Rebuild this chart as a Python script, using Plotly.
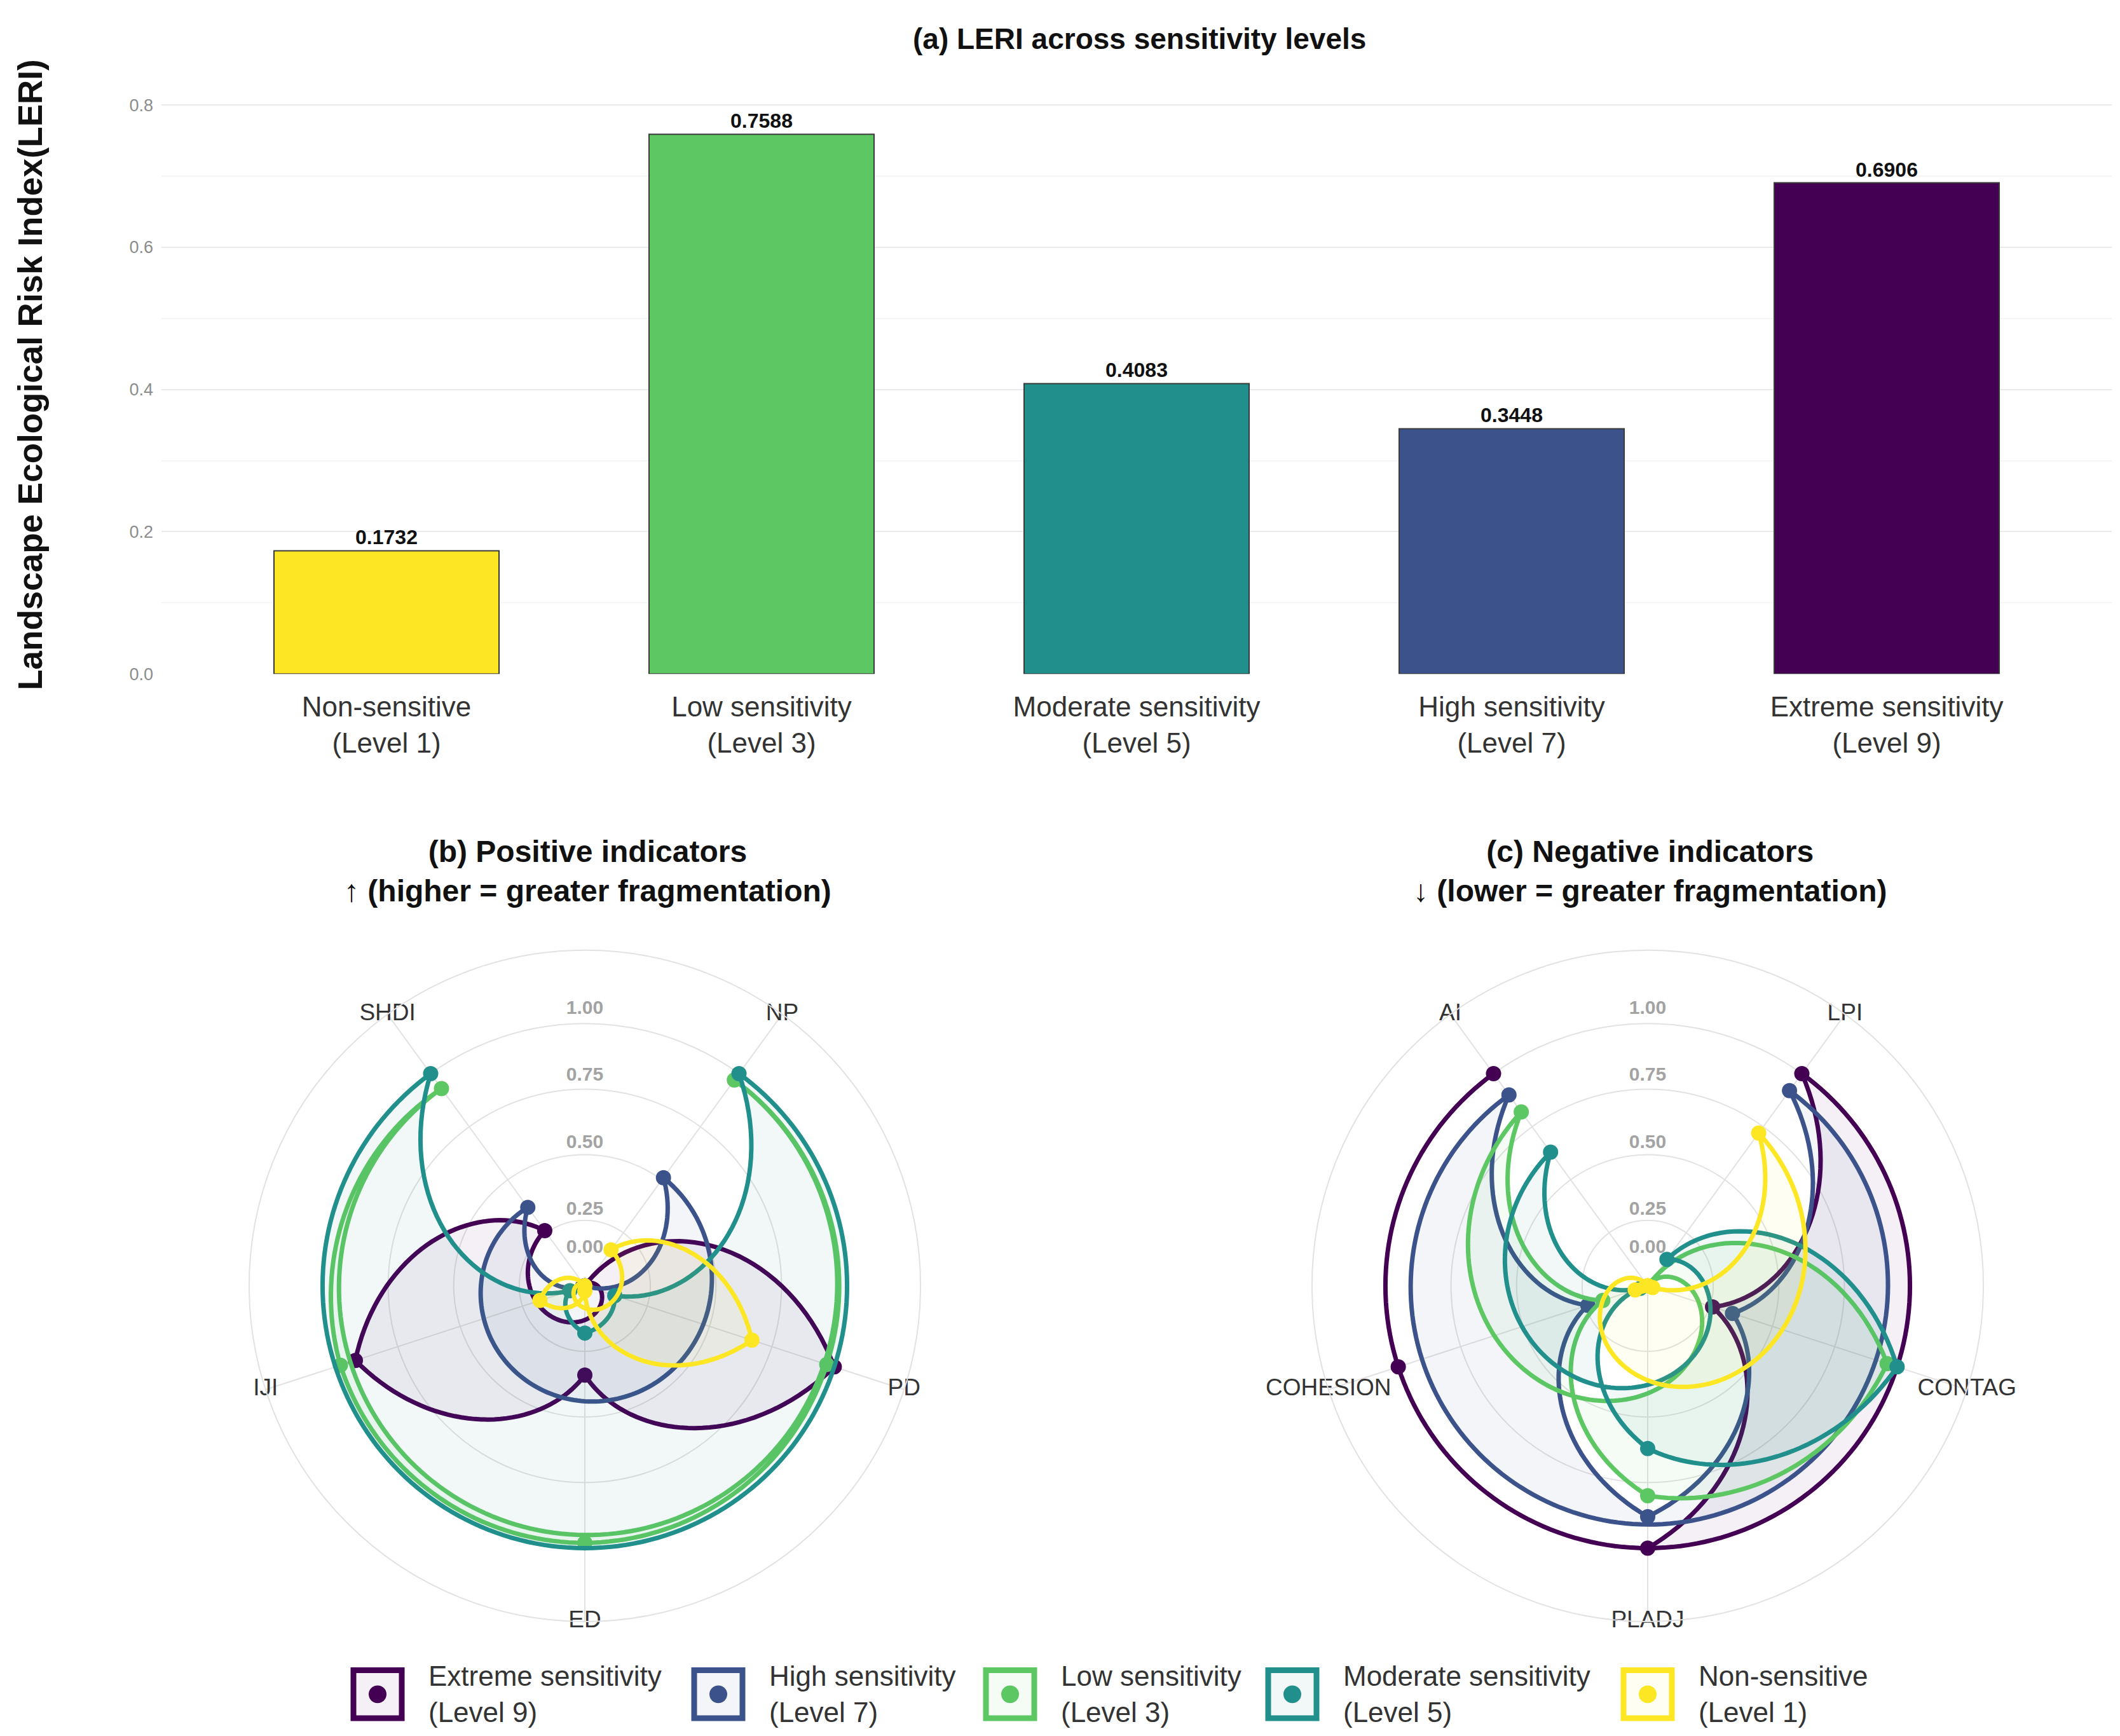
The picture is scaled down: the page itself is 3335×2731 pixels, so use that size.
import plotly.graph_objects as go

W, H = 3335, 2731
FONT = "Liberation Sans, Arial, sans-serif"

# ---------------- (a) LERI by sensitivity level ----------------
levels = ["Non-sensitive", "Low sensitivity", "Moderate sensitivity",
          "High sensitivity", "Extreme sensitivity"]
level_codes = ["Level 1", "Level 3", "Level 5", "Level 7", "Level 9"]
leri = [0.1732, 0.7588, 0.4083, 0.3448, 0.6906]
level_colors = ["#FDE725", "#5DC863", "#21908C", "#3B528B", "#440154"]

# ---------------- (b)/(c) normalised landscape indicators ----------------
pos_indicators = ["NP", "PD", "ED", "IJI", "SHDI"]
neg_indicators = ["LPI", "CONTAG", "PLADJ", "COHESION", "AI"]

radar_groups = ["Extreme sensitivity", "High sensitivity", "Low sensitivity",
                "Moderate sensitivity", "Non-sensitive"]
radar_codes = ["Level 9", "Level 7", "Level 3", "Level 5", "Level 1"]
radar_colors = ["#440154", "#3B528B", "#5DC863", "#21908C", "#FDE725"]

# positive indicators: NP, PD, ED, IJI, SHDI
pos_extreme = [0.00, 1.00, 0.34, 0.92, 0.26]
pos_high = [0.51, 0.00, 0.00, 0.01, 0.37]
pos_low = [0.97, 0.97, 0.98, 0.98, 0.93]
pos_moderate = [1.00, 0.12, 0.18, 0.06, 1.00]
pos_non = [0.17, 0.67, 0.02, 0.18, 0.00]

# negative indicators: LPI, CONTAG, PLADJ, COHESION, AI
neg_extreme = [1.00, 0.26, 1.00, 1.00, 1.00]
neg_high = [0.92, 0.34, 0.88, 0.24, 0.90]
neg_low = [0.00, 0.96, 0.80, 0.18, 0.82]
neg_moderate = [0.125, 1.00, 0.62, 0.03, 0.63]
neg_non = [0.72, 0.02, 0.00, 0.05, 0.00]

radial_ticks = [1.00, 0.75, 0.50, 0.25, 0.00]


def px_x(x):
    return x / W


def px_y(y):
    return 1 - y / H


def rgba(hex_color, a):
    h = hex_color.lstrip("#")
    return f"rgba({int(h[0:2], 16)},{int(h[2:4], 16)},{int(h[4:6], 16)},{a})"


def axis_angles(n):
    # discrete theta positions as ggplot's coord_polar places them
    return [(i + 0.5) * 360 / n for i in range(n)]


def polar_path(values, steps=40):
    # coord_polar draws every edge straight in (x, r) data space, so on screen
    # the edges become spirals; the closing edge runs back over all axes
    n = len(values)
    xs = list(range(n)) + [0]
    rs = list(values) + [values[0]]
    theta, r = [], []
    for i in range(n):
        k_max = steps * abs(xs[i + 1] - xs[i])
        for k in range(k_max):
            t = k / k_max
            x = xs[i] + t * (xs[i + 1] - xs[i])
            theta.append((x + 0.5) * 360 / n)
            r.append(rs[i] + t * (rs[i + 1] - rs[i]))
    theta.append((xs[-1] + 0.5) * 360 / n)
    r.append(rs[-1])
    return theta, r


fig = go.Figure()

# bars
fig.add_trace(go.Bar(
    x=[f"{name}<br>({code})" for name, code in zip(levels, level_codes)],
    y=leri,
    width=0.6,
    marker=dict(color=level_colors, line=dict(color="#3a3a3a", width=2)),
    texttemplate="<b>%{y:.4f}</b>",
    textposition="outside",
    textfont=dict(size=32, color="#111111", family=FONT),
    cliponaxis=False,
    showlegend=False,
))

# radar panels
panels = [
    ("polar", pos_indicators,
     [pos_extreme, pos_high, pos_low, pos_moderate, pos_non]),
    ("polar2", neg_indicators,
     [neg_extreme, neg_high, neg_low, neg_moderate, neg_non]),
]
for subplot, labels, series in panels:
    angles = axis_angles(len(labels))
    for vals, color in zip(series, radar_colors):
        th, rr = polar_path(vals)
        fig.add_trace(go.Scatterpolar(
            theta=th, r=rr, mode="lines", fill="toself",
            fillcolor=rgba(color, 0.06),
            line=dict(color=color, width=7),
            subplot=subplot, showlegend=False, hoverinfo="skip",
        ))
        fig.add_trace(go.Scatterpolar(
            theta=angles, r=vals, mode="markers",
            marker=dict(color=color, size=24),
            subplot=subplot, showlegend=False,
        ))
    # radial tick labels on the vertical
    fig.add_trace(go.Scatterpolar(
        theta=[0] * len(radial_ticks),
        r=[1.055, 0.80, 0.545, 0.29, 0.145],
        mode="text",
        text=[f"<b>{v:.2f}</b>" for v in radial_ticks],
        textfont=dict(size=30, color="#a3a3a3", family=FONT),
        subplot=subplot, showlegend=False, cliponaxis=False,
    ))
    # indicator names on the outer circle
    fig.add_trace(go.Scatterpolar(
        theta=angles, r=[1.28] * len(labels), mode="text", text=labels,
        textfont=dict(size=37, color="#333333", family=FONT),
        subplot=subplot, showlegend=False, cliponaxis=False,
    ))

polar_common = dict(
    bgcolor="white",
    radialaxis=dict(range=[0, 1.28], tickvals=[0.25, 0.5, 0.75, 1.0],
                    showticklabels=False, ticks="", showline=False,
                    gridcolor="#e2e2e2", gridwidth=2),
    angularaxis=dict(rotation=90, direction="clockwise", tickmode="array",
                     tickvals=axis_angles(5), showticklabels=False, ticks="",
                     showgrid=True, gridcolor="#e2e2e2", gridwidth=2,
                     showline=True, linecolor="#e2e2e2", linewidth=2),
)

annotations = [
    dict(text="<b>(a) LERI across sensitivity levels</b>", x=px_x(1785), y=px_y(53),
         font=dict(size=46, color="#111111")),
    dict(text="<b>Landscape Ecological Risk Index(LERI)</b>", x=px_x(40), y=px_y(585),
         textangle=-90, font=dict(size=53, color="#111111")),
    dict(text="<b>(b) Positive indicators<br>↑ (higher = greater fragmentation)</b>",
         x=px_x(917), y=px_y(1370), font=dict(size=48, color="#111111")),
    dict(text="<b>(c) Negative indicators<br>↓ (lower = greater fragmentation)</b>",
         x=px_x(2587), y=px_y(1370), font=dict(size=48, color="#111111")),
]

# legend drawn as keys (outlined square + dot) and labels
shapes = []
legend_left = [548, 1084, 1543, 1987, 2546]
key = 76
key_cy = 2672
for left, name, code, color in zip(legend_left, radar_groups, radar_codes, radar_colors):
    shapes.append(dict(type="rect", xref="paper", yref="paper",
                       x0=px_x(left), x1=px_x(left + key),
                       y0=px_y(key_cy + key / 2), y1=px_y(key_cy - key / 2),
                       line=dict(color=color, width=9), fillcolor=rgba(color, 0.06)))
    shapes.append(dict(type="circle", xref="paper", yref="paper",
                       x0=px_x(left + key / 2 - 14), x1=px_x(left + key / 2 + 14),
                       y0=px_y(key_cy + 14), y1=px_y(key_cy - 14),
                       line=dict(width=0), fillcolor=color))
    annotations.append(dict(text=f"{name}<br>({code})", x=px_x(left + 116), y=px_y(key_cy),
                            xanchor="left", align="left",
                            font=dict(size=44, color="#333333")))

for a in annotations:
    a.setdefault("xref", "paper")
    a.setdefault("yref", "paper")
    a.setdefault("xanchor", "center")
    a.setdefault("yanchor", "middle")
    a.setdefault("showarrow", False)

fig.update_layout(
    width=W, height=H,
    margin=dict(l=0, r=0, t=0, b=0),
    paper_bgcolor="white", plot_bgcolor="white",
    font=dict(family=FONT, color="#333333"),
    showlegend=False,
    xaxis=dict(domain=[px_x(246), px_x(3314)], range=[-0.6, 4.6],
               showgrid=False, zeroline=False, ticks="", showline=False,
               tickfont=dict(size=44, color="#333333"), ticklabelstandoff=22),
    yaxis=dict(domain=[px_y(1058), px_y(113)], range=[0, 0.84],
               tickvals=[0, 0.2, 0.4, 0.6, 0.8],
               ticktext=["0.0", "0.2", "0.4", "0.6", "0.8"],
               gridcolor="#ebebeb", gridwidth=2, zeroline=False, ticks="",
               minor=dict(tickvals=[0.1, 0.3, 0.5, 0.7], showgrid=True,
                          gridcolor="#f5f5f5", gridwidth=1.5),
               tickfont=dict(size=27, color="#8c8c8c"), ticklabelstandoff=12),
    polar=dict(domain=dict(x=[px_x(381), px_x(1443)], y=[px_y(2557), px_y(1495)]),
               **polar_common),
    polar2=dict(domain=dict(x=[px_x(2053), px_x(3115)], y=[px_y(2557), px_y(1495)]),
                **polar_common),
    annotations=annotations,
    shapes=shapes,
)

fig.write_html("out.html")
